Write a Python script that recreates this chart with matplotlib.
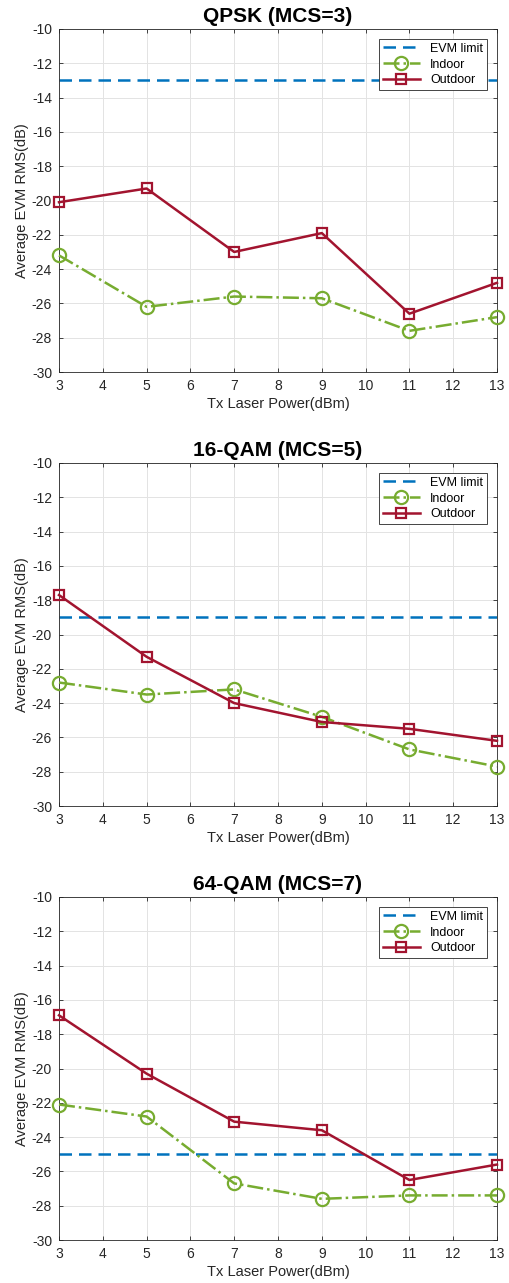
import matplotlib
matplotlib.use('Agg')
import matplotlib.pyplot as plt
import numpy as np

plt.rcParams['font.family'] = ['Liberation Sans', 'DejaVu Sans']
plt.rcParams['axes.unicode_minus'] = False

power = [3, 5, 7, 9, 11, 13]
titles = ['QPSK (MCS=3)', '16-QAM (MCS=5)', '64-QAM (MCS=7)']
limits = [-13, -19, -25]
indoor = [
    [-23.2, -26.2, -25.6, -25.7, -27.6, -26.8],
    [-22.8, -23.5, -23.2, -24.8, -26.7, -27.7],
    [-22.1, -22.8, -26.7, -27.6, -27.4, -27.4],
]
outdoor = [
    [-20.1, -19.3, -23.0, -21.9, -26.6, -24.8],
    [-17.7, -21.3, -24.0, -25.1, -25.5, -26.2],
    [-16.9, -20.3, -23.1, -23.6, -26.5, -25.6],
]

blue = '#0072BD'
green = '#77AC30'
red = '#A2142F'
dark = '#262626'

fig = plt.figure(figsize=(5.1, 12.83), dpi=100)
W, H = 510, 1283
tops = [29, 463, 897]
for i in range(3):
    ax = fig.add_axes([59 / W, 1 - (tops[i] + 343) / H, 438 / W, 343 / H])
    ax.plot([3, 13], [limits[i], limits[i]], '--', color=blue, lw=1.8,
            dashes=(5, 2.8), label='EVM limit')
    ax.plot(power, indoor[i], '-.', color=green, lw=1.8, marker='o', ms=9.5,
            mfc='none', mew=1.6, label='Indoor', clip_on=False, zorder=3)
    ax.plot(power, outdoor[i], '-', color=red, lw=1.8, marker='s', ms=7.5,
            mfc='none', mew=1.6, label='Outdoor', clip_on=False, zorder=4)
    ax.set_xlim(3, 13)
    ax.set_ylim(-30, -10)
    ax.set_xticks(range(3, 14))
    ax.set_yticks(range(-30, -9, 2))
    ax.grid(True, color='#e3e3e3', lw=0.7)
    ax.tick_params(direction='in', top=True, right=True, labelsize=10,
                   colors=dark, length=3, width=0.6, pad=5)
    for s in ax.spines.values():
        s.set_color(dark)
        s.set_linewidth(0.6)
    ax.set_title(titles[i], fontsize=15, fontweight='bold', pad=5)
    ax.set_xlabel('Tx Laser Power(dBm)', fontsize=10.5, color=dark, labelpad=3)
    ax.set_ylabel('Average EVM RMS(dB)', fontsize=10.5, color=dark, labelpad=2)
    leg = ax.legend(loc='upper right', fontsize=9, fancybox=False,
                    edgecolor=dark, framealpha=1, borderaxespad=0.8,
                    handlelength=3.0, borderpad=0.3, labelspacing=0.3,
                    handletextpad=0.8)
    leg.get_frame().set_linewidth(0.6)

fig.savefig('out.png', dpi=100)
